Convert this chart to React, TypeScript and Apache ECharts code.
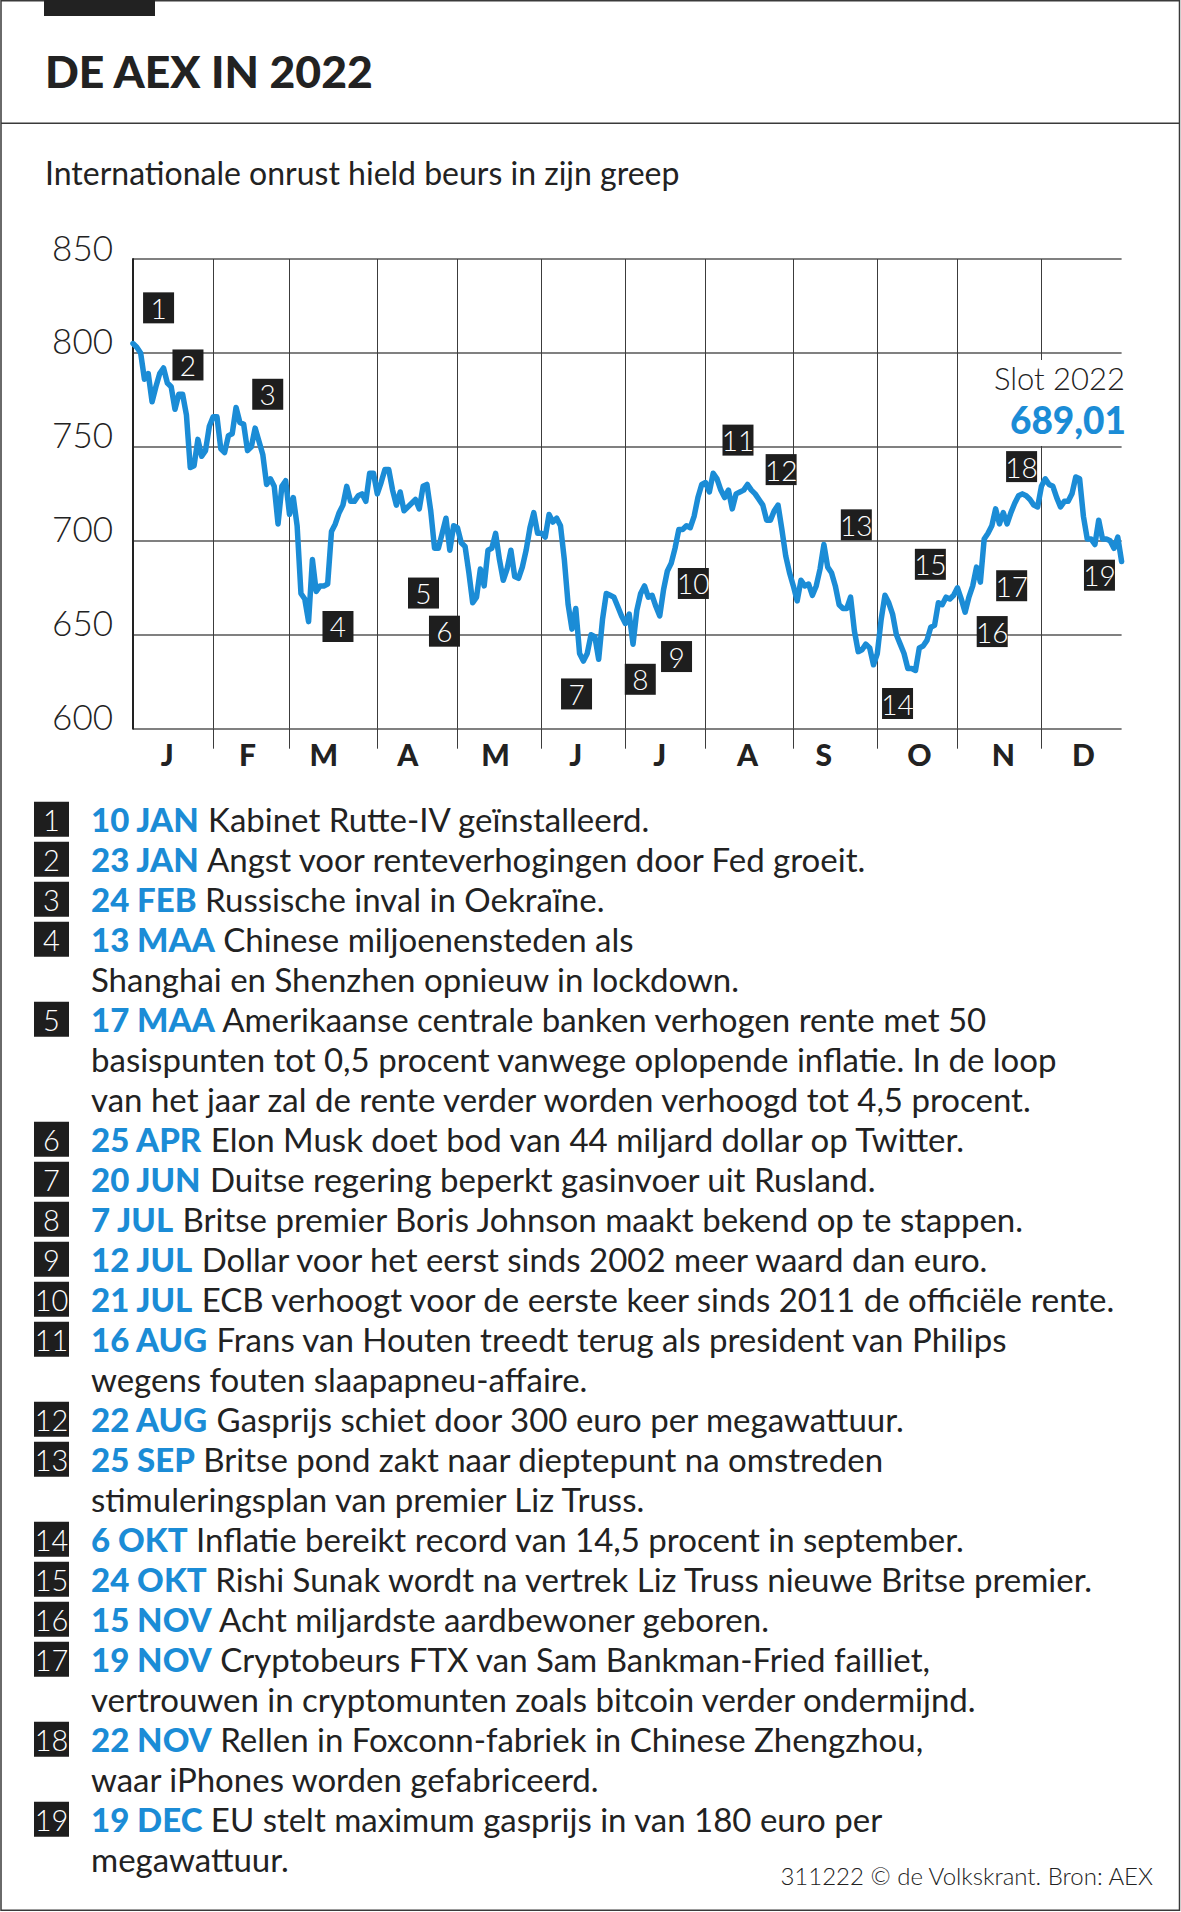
import React, { useEffect, useRef } from 'react';
import * as echarts from 'echarts';

const W = 1181;
const H = 1912;
const BLUE = '#1b8cd6';
const INK = '#222222';
const BOX = '#1e1e1e';
const FONT = 'Lato, "Open Sans", sans-serif';

// ---- data -------------------------------------------------------------
const monthLetters = ['J', 'F', 'M', 'A', 'M', 'J', 'J', 'A', 'S', 'O', 'N', 'D'];
const monthLabelIdx = [9, 30, 50, 72, 95, 116, 138, 161, 181, 206, 228, 249];
const yTicks = [600, 650, 700, 750, 800, 850];

// AEX closing values per trading (week)day
const jan = [805, 803, 800, 786, 789, 774, 782, 789, 792, 784, 782, 770, 778, 778, 767, 739, 740, 754, 745, 748, 761];
const feb = [766, 766, 749, 747, 756, 757, 771, 763, 762, 748, 750, 760, 753, 746, 730, 733, 729, 709, 729, 732];
const mar = [714, 723, 708, 672, 669, 657, 690, 673, 676, 676, 677, 705, 709, 715, 719, 729, 721, 721, 724, 725, 721, 736, 736];
const apr = [725, 731, 738, 738, 727, 719, 726, 716, 718, 720, 722, 717, 729, 730, 716, 696, 696, 704, 712, 695, 708];
const may = [707, 699, 697, 683, 667, 670, 685, 676, 695, 696, 704, 690, 679, 685, 695, 681, 680, 686, 695, 707, 715, 704];
const jun = [704, 702, 714, 710, 712, 708, 690, 666, 653, 664, 640, 636, 640, 650, 649, 637, 658, 672, 671, 670, 665, 660];
const jul = [656, 661, 645, 663, 672, 676, 670, 671, 665, 660, 674, 684, 688, 696, 706, 706, 708, 707, 713, 723, 730];
const aug = [731, 726, 736, 733, 727, 723, 727, 717, 725, 726, 727, 730, 727, 725, 722, 719, 711, 711, 716, 719, 706, 692, 683];
const sep = [676, 668, 679, 676, 677, 671, 676, 685, 698, 686, 683, 676, 666, 664, 664, 670, 652, 641, 642, 645, 643, 634];
const oct = [640, 658, 671, 667, 661, 650, 645, 640, 632, 632, 631, 643, 644, 647, 654, 655, 667, 666, 670, 669, 671];
const nov = [675, 669, 662, 670, 676, 686, 678, 701, 704, 708, 717, 709, 715, 709, 715, 720, 724, 725, 724, 722, 719, 718];
const dec = [729, 733, 730, 729, 723, 718, 721, 721, 725, 734, 733, 713, 701, 701, 698, 711, 701, 701, 700, 696, 702, 689.01];
const aex = [...jan, ...feb, ...mar, ...apr, ...may, ...jun, ...jul, ...aug, ...sep, ...oct, ...nov, ...dec];

// numbered event markers in the chart (x = trading-day index, y = index level)
const markerNumbers = ['1', '2', '3', '4', '5', '6', '7', '8', '9', '10', '11', '12', '13', '14', '15', '16', '17', '18', '19'];
const markerX = [6.7, 14.4, 35.3, 53.7, 76.1, 81.6, 116.2, 132.9, 142.4, 146.8, 158.5, 169.8, 189.5, 200.3, 208.9, 225.1, 230.2, 232.8, 253.2];
const markerY = [824, 793.6, 778, 654.4, 672.2, 651.9, 618.5, 626.3, 638.4, 677.3, 753.6, 737.9, 708.5, 613.4, 687.5, 651.7, 676.1, 739.5, 681.7];

const eventDates = ['10 JAN', '23 JAN', '24 FEB', '13 MAA', '17 MAA', '25 APR', '20 JUN', '7 JUL', '12 JUL', '21 JUL', '16 AUG', '22 AUG', '25 SEP', '6 OKT', '24 OKT', '15 NOV', '19 NOV', '22 NOV', '19 DEC'];
const eventTexts = [
  'Kabinet Rutte-IV geïnstalleerd.',
  'Angst voor renteverhogingen door Fed groeit.',
  'Russische inval in Oekraïne.',
  'Chinese miljoenensteden als\nShanghai en Shenzhen opnieuw in lockdown.',
  'Amerikaanse centrale banken verhogen rente met 50\nbasispunten tot 0,5 procent vanwege oplopende inflatie. In de loop\nvan het jaar zal de rente verder worden verhoogd tot 4,5 procent.',
  'Elon Musk doet bod van 44 miljard dollar op Twitter.',
  'Duitse regering beperkt gasinvoer uit Rusland.',
  'Britse premier Boris Johnson maakt bekend op te stappen.',
  'Dollar voor het eerst sinds 2002 meer waard dan euro.',
  'ECB verhoogt voor de eerste keer sinds 2011 de officiële rente.',
  'Frans van Houten treedt terug als president van Philips\nwegens fouten slaapapneu-affaire.',
  'Gasprijs schiet door 300 euro per megawattuur.',
  'Britse pond zakt naar dieptepunt na omstreden\nstimuleringsplan van premier Liz Truss.',
  'Inflatie bereikt record van 14,5 procent in september.',
  'Rishi Sunak wordt na vertrek Liz Truss nieuwe Britse premier.',
  'Acht miljardste aardbewoner geboren.',
  'Cryptobeurs FTX van Sam Bankman-Fried failliet,\nvertrouwen in cryptomunten zoals bitcoin verder ondermijnd.',
  'Rellen in Foxconn-fabriek in Chinese Zhengzhou,\nwaar iPhones worden gefabriceerd.',
  'EU stelt maximum gasprijs in van 180 euro per\nmegawattuur.',
];

const TITLE = 'DE AEX IN 2022';
const SUBTITLE = 'Internationale onrust hield beurs in zijn greep';
const CLOSE_LABEL = 'Slot 2022';
const CLOSE_VALUE = '689,01';
const SOURCE = '311222 © de Volkskrant. Bron: AEX';

// ---- helpers ----------------------------------------------------------
function weekdays2022(): string[] {
  const out: string[] = [];
  const d = new Date(Date.UTC(2022, 0, 3));
  const end = Date.UTC(2022, 11, 30);
  while (d.getTime() <= end) {
    const wd = d.getUTCDay();
    if (wd !== 0 && wd !== 6) out.push(d.toISOString().slice(0, 10));
    d.setUTCDate(d.getUTCDate() + 1);
  }
  return out;
}

function buildOption() {
  const days = weekdays2022();
  const monthStarts: number[] = [];
  for (let i = 1; i < days.length; i++) {
    if (days[i].slice(5, 7) !== days[i - 1].slice(5, 7)) monthStarts.push(i);
  }

  const gridLeft = 133;
  const gridTop = 259;
  const gridW = 988.6;
  const gridH = 469.7;

  const graphic: any[] = [];
  // frame
  graphic.push({ type: 'rect', z: 1, shape: { x: 1, y: 0.75, width: 1178.5, height: 1909.5 }, style: { fill: 'none', stroke: '#3a3a3a', lineWidth: 1.5 } });
  graphic.push({ type: 'rect', z: 1, shape: { x: 44, y: 0, width: 111, height: 16 }, style: { fill: INK } });
  graphic.push({ type: 'line', z: 1, shape: { x1: 1, y1: 123.3, x2: 1180, y2: 123.3 }, style: { stroke: '#3a3a3a', lineWidth: 1.5 } });
  graphic.push({ type: 'text', z: 5, x: 45, y: 70.5, style: { text: TITLE, fill: INK, fontSize: 44.5, fontWeight: 900, fontFamily: FONT, verticalAlign: 'middle', align: 'left' } });
  graphic.push({ type: 'text', z: 5, x: 45, y: 172, style: { text: SUBTITLE, fill: INK, fontSize: 32, fontWeight: 400, fontFamily: FONT, verticalAlign: 'middle', align: 'left' } });

  // close annotation
  graphic.push({ type: 'rect', z: 5, shape: { x: 985, y: 360, width: 143, height: 86 }, style: { fill: '#ffffff' } });
  graphic.push({ type: 'text', z: 6, x: 1125, y: 377.5, style: { text: CLOSE_LABEL, fill: INK, fontSize: 31, lineHeight: 30, fontWeight: 300, fontFamily: FONT, verticalAlign: 'middle', align: 'right' } });
  graphic.push({ type: 'text', z: 6, x: 1126, y: 419, style: { text: CLOSE_VALUE, fill: BLUE, fontSize: 37, lineHeight: 34, fontWeight: 900, fontFamily: FONT, verticalAlign: 'middle', align: 'right' } });

  // legend list
  let line = 0;
  for (let k = 0; k < eventDates.length; k++) {
    const top = 799.3 + 40 * line;
    graphic.push({ type: 'rect', z: 5, shape: { x: 34, y: top + 2.4, width: 35, height: 35 }, style: { fill: BOX } });
    graphic.push({ type: 'text', z: 6, x: 51.5, y: top + 20, style: { text: markerNumbers[k], fill: '#ffffff', fontSize: 29, fontWeight: 300, fontFamily: FONT, align: 'center', verticalAlign: 'middle' } });
    graphic.push({
      type: 'text', z: 6, x: 91, y: top,
      style: {
        text: '{d|' + eventDates[k] + '} ' + eventTexts[k],
        fill: INK, fontSize: 33, fontWeight: 400, fontFamily: FONT, lineHeight: 40,
        align: 'left', verticalAlign: 'top',
        rich: {
          d: { fill: BLUE, color: BLUE, fontSize: 33, fontWeight: 900, fontFamily: FONT, lineHeight: 40 },
        },
      },
    });
    line += eventTexts[k].split('\n').length;
  }
  graphic.push({ type: 'text', z: 6, x: 1153, y: 1875, style: { text: SOURCE, fill: INK, fontSize: 24, fontWeight: 300, fontFamily: FONT, align: 'right', verticalAlign: 'middle' } });

  return {
    animation: false,
    backgroundColor: '#ffffff',
    grid: { left: gridLeft, top: gridTop, width: gridW, height: gridH, containLabel: false, outerBoundsMode: 'none' },
    xAxis: [
      {
        type: 'category',
        data: days,
        boundaryGap: false,
        axisLine: { show: false },
        axisTick: { show: true, interval: (i: number) => monthStarts.includes(i), length: 20, lineStyle: { color: '#3c3c3c', width: 1 } },
        splitLine: { show: true, interval: (i: number) => monthStarts.includes(i), lineStyle: { color: '#3c3c3c', width: 1 } },
        axisLabel: {
          interval: (i: number) => monthLabelIdx.includes(i),
          formatter: (_v: string, i: number) => monthLetters[monthLabelIdx.indexOf(i)] ?? '',
          margin: 10,
          fontSize: 30,
          fontWeight: 900,
          fontFamily: FONT,
          color: INK,
          lineHeight: 30,
        },
      },
      { type: 'value', min: 0, max: days.length - 1, show: false },
    ],
    yAxis: {
      type: 'value',
      min: yTicks[0],
      max: yTicks[yTicks.length - 1],
      interval: 50,
      axisLine: { show: true, lineStyle: { color: INK, width: 2 } },
      axisTick: { show: false },
      splitLine: { show: true, lineStyle: { color: '#808080', width: 2 } },
      axisLabel: { fontSize: 35, fontWeight: 300, fontFamily: FONT, color: INK, margin: 20, verticalAlign: 'bottom', lineHeight: 25 },
    },
    series: [
      {
        type: 'line',
        xAxisIndex: 0,
        yAxisIndex: 0,
        data: aex,
        symbol: 'none',
        z: 3,
        lineStyle: { color: BLUE, width: 5.5, cap: 'round', join: 'round' },
        silent: true,
      },
      {
        type: 'scatter',
        xAxisIndex: 1,
        yAxisIndex: 0,
        symbol: 'rect',
        symbolSize: 31,
        z: 4,
        silent: true,
        clip: false,
        itemStyle: { color: BOX, opacity: 1 },
        label: { show: true, position: 'inside', formatter: '{b}', color: '#ffffff', fontSize: 28, fontWeight: 300, fontFamily: FONT },
        data: markerNumbers.map((n, k) => ({ name: n, value: [markerX[k], markerY[k]] })),
      },
    ],
    graphic,
  };
}

export default function App() {
  const ref = useRef<HTMLDivElement>(null);
  useEffect(() => {
    document.body.style.margin = '0';
    if (!ref.current) return;
    const chart = echarts.init(ref.current, undefined, { renderer: 'svg', width: W, height: H });
    chart.setOption(buildOption() as any);
    return () => chart.dispose();
  }, []);
  return <div ref={ref} style={{ position: 'absolute', left: 0, top: 0, width: W, height: H, background: '#fff' }} />;
}
